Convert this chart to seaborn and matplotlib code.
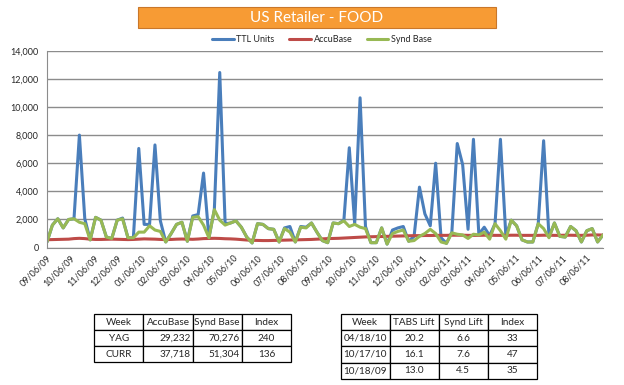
import matplotlib
matplotlib.use("Agg")
import matplotlib.pyplot as plt
import matplotlib.dates as mdates
from matplotlib.patches import Rectangle
from matplotlib.ticker import FuncFormatter
import pandas as pd
import seaborn as sns

# ----------------------------
# Data (weekly)
# ----------------------------
start_week = "2009-09-06"
n_weeks = 104

ttl_units = [400, 1600, 2050, 1400, 2000, 2050, 8000, 2050, 550, 2150,
             1950, 750, 650, 1950, 2100, 700, 700, 7050, 1650, 1650,
             7300, 1900, 400, 1000, 1650, 1800, 450, 2250, 2350, 5300,
             700, 2700, 12450, 1700, 1750, 1900, 1450, 750, 330, 1700,
             1650, 1350, 1300, 400, 1400, 1500, 400, 1500, 1450, 1750,
             1100, 500, 350, 1750, 1700, 1950, 7100, 1700, 10650, 1500,
             350, 350, 1400, 250, 1250, 1400, 1500, 450, 800, 4300,
             2400, 1550, 6000, 700, 300, 1100, 7400, 5900, 1300, 7700,
             950, 1450, 850, 1700, 7700, 850, 1950, 1550, 550, 400,
             400, 1700, 7600, 750, 1750, 800, 750, 1500, 1200, 400,
             1200, 1350, 400, 900]

accubase = [560, 570, 580, 590, 600, 640, 660, 640, 600, 580,
            580, 590, 600, 590, 580, 570, 580, 600, 620, 610,
            600, 580, 570, 580, 600, 610, 600, 590, 610, 640,
            650, 660, 650, 630, 620, 600, 570, 540, 520, 510,
            500, 500, 510, 520, 530, 540, 550, 560, 570, 580,
            600, 620, 640, 650, 660, 680, 700, 720, 740, 760,
            770, 780, 790, 800, 810, 820, 830, 840, 850, 850,
            860, 860, 870, 870, 870, 880, 880, 880, 870, 870,
            870, 880, 880, 870, 870, 870, 880, 880, 870, 870,
            870, 870, 880, 880, 870, 870, 880, 880, 870, 870,
            880, 900, 900, 890]

synd_base = [400, 1600, 2050, 1400, 2000, 2050, 1800, 1700, 550, 2150,
             1950, 750, 650, 1950, 2050, 700, 700, 1100, 1100, 1550,
             1250, 1150, 400, 1000, 1650, 1800, 450, 2150, 2200, 1600,
             700, 2700, 1950, 1600, 1750, 1900, 1450, 750, 330, 1700,
             1650, 1350, 1300, 400, 1350, 1100, 400, 1450, 1400, 1750,
             1100, 500, 350, 1750, 1700, 1900, 1500, 1650, 1450, 1350,
             350, 350, 1400, 250, 1000, 1150, 1250, 450, 500, 800,
             1000, 1300, 1000, 400, 300, 1050, 950, 900, 650, 950,
             900, 1100, 600, 1700, 1200, 600, 1950, 1550, 550, 400,
             400, 1700, 1350, 700, 1750, 800, 750, 1500, 1200, 400,
             1200, 1350, 400, 900]

series_names = ["TTL Units", "AccuBase", "Synd Base"]
series_colors = ["#4A7EBB", "#BE4B48", "#98B954"]

# summary tables
t1_header = ["Week", "AccuBase", "Synd Base", "Index"]
t1_rows = [["YAG", "29,232", "70,276", "240"],
           ["CURR", "37,718", "51,304", "136"]]

t2_header = ["Week", "TABS Lift", "Synd Lift", "Index"]
t2_rows = [["04/18/10", "20.2", "6.6", "33"],
           ["10/17/10", "16.1", "7.6", "47"],
           ["10/18/09", "13.0", "4.5", "35"]]

weeks = pd.date_range(start_week, periods=n_weeks, freq="7D")
df = pd.DataFrame({"Week": weeks, "TTL Units": ttl_units,
                   "AccuBase": accubase, "Synd Base": synd_base})
long_df = df.melt(id_vars="Week", var_name="Series", value_name="Units")

# ----------------------------
# Figure
# ----------------------------
sns.set_style("white")
plt.rcParams["font.family"] = ["Lato", "DejaVu Sans"]

W, H = 624, 385
fig = plt.figure(figsize=(W / 100, H / 100), dpi=100)
ax = fig.add_axes([47 / W, 1 - 247.6 / H, (603 - 47) / W, (247.6 - 50.7) / H])

sns.lineplot(data=long_df, x="Week", y="Units", hue="Series",
             hue_order=series_names, palette=series_colors,
             linewidth=2.2, ax=ax, legend=False)

ax.set_xlim(weeks[0], weeks[-1])
ax.set_ylim(0, 14000)
ax.set_yticks(range(0, 14001, 2000))
ax.yaxis.set_major_formatter(FuncFormatter(lambda v, p: f"{int(v):,}"))
ax.xaxis.set_major_locator(mdates.MonthLocator(bymonthday=6))
ax.xaxis.set_major_formatter(mdates.DateFormatter("%m/%d/%y"))
ax.set_xlabel("")
ax.set_ylabel("")
ax.grid(True, axis="y", color="#8C8C8C", linewidth=1)
ax.grid(False, axis="x")
ax.set_axisbelow(True)
for s in ["top", "right"]:
    ax.spines[s].set_visible(False)
for s in ["left", "bottom"]:
    ax.spines[s].set_color("#8C8C8C")
ax.tick_params(axis="y", length=0, labelsize=6.5, pad=6)
ax.tick_params(axis="x", length=3, color="#8C8C8C", labelsize=6.5, pad=1)
plt.setp(ax.get_xticklabels(), rotation=45, ha="right", rotation_mode="anchor")

# legend above the plot
handles = [plt.Line2D([], [], color=c, lw=2.2) for c in series_colors]
fig.legend(handles, series_names, loc="center", bbox_to_anchor=(322 / W, 1 - 40 / H),
           ncol=3, frameon=False, fontsize=6.5, handlelength=2.4,
           columnspacing=1.6, handletextpad=0.3)

# orange title box
fig.patches.append(Rectangle((138 / W, 1 - 28 / H), (496 - 138) / W, 21 / H,
                             transform=fig.transFigure, facecolor="#F79B34",
                             edgecolor="#C9772A", linewidth=0.8))
fig.text(317 / W, 1 - 17.5 / H, "US Retailer - FOOD", color="white",
         fontsize=11, ha="center", va="center")


# ----------------------------
# Tables
# ----------------------------
def draw_table(x0, y0, x1, y1, header, rows, align):
    tax = fig.add_axes([x0 / W, 1 - y1 / H, (x1 - x0) / W, (y1 - y0) / H])
    tax.axis("off")
    tbl = tax.table(cellText=[header] + rows, bbox=[0, 0, 1, 1], cellLoc="center")
    tbl.auto_set_font_size(False)
    for (r, c), cell in tbl.get_celld().items():
        cell.set_linewidth(0.9)
        cell.set_edgecolor("black")
        cell.get_text().set_fontsize(7.2)
        if r > 0:
            cell.get_text().set_horizontalalignment(align[c])
            if align[c] == "right":
                cell.PAD = 0.04
    return tbl


draw_table(94.3, 314, 291, 362.3, t1_header, t1_rows,
           ["center", "right", "right", "center"])
draw_table(340.7, 314, 536.7, 378.7, t2_header, t2_rows,
           ["center", "center", "center", "center"])

fig.savefig("out.png", dpi=100)
